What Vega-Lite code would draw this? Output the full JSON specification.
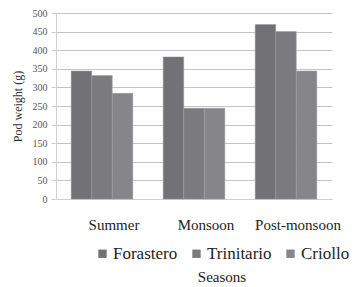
{
  "$schema": "https://vega.github.io/schema/vega-lite/v6.json",
  "width": 276,
  "height": 186,
  "autosize": "none",
  "padding": {"left": 56, "top": 13, "right": 25, "bottom": 88},
  "background": "white",
  "data": {"values": [
    {"season": "Summer", "variety": "Forastero", "weight": 344},
    {"season": "Summer", "variety": "Trinitario", "weight": 332},
    {"season": "Summer", "variety": "Criollo", "weight": 284},
    {"season": "Monsoon", "variety": "Forastero", "weight": 382},
    {"season": "Monsoon", "variety": "Trinitario", "weight": 244},
    {"season": "Monsoon", "variety": "Criollo", "weight": 244},
    {"season": "Post-monsoon", "variety": "Forastero", "weight": 469},
    {"season": "Post-monsoon", "variety": "Trinitario", "weight": 450},
    {"season": "Post-monsoon", "variety": "Criollo", "weight": 344}
  ]},
  "config": {
    "font": "Liberation Serif",
    "view": {"stroke": null}
  },
  "mark": {"type": "bar", "stroke": "#9a9a9e", "strokeWidth": 0.5},
  "encoding": {
    "x": {
      "field": "season", "type": "nominal",
      "sort": ["Summer", "Monsoon", "Post-monsoon"],
      "scale": {"paddingInner": 0.33, "paddingOuter": 0.165},
      "axis": {
        "title": null, "labelAngle": 0, "labelFontSize": 15, "labelColor": "#222",
        "labelFont": "Liberation Serif",
        "labelPadding": 18, "labelOffset": 12, "domainColor": "#d0d0d0", "ticks": false, "grid": false
      }
    },
    "xOffset": {"field": "variety", "type": "nominal", "sort": ["Forastero", "Trinitario", "Criollo"], "scale": {"paddingInner": 0}},
    "y": {
      "field": "weight", "type": "quantitative",
      "scale": {"domain": [0, 500], "nice": false},
      "axis": {
        "title": "Pod weight (g)", "titleFontSize": 12, "titleFontWeight": "normal", "titleColor": "#333",
        "titleFont": "Liberation Serif", "labelFont": "Liberation Serif",
        "titlePadding": 8,
        "values": [0, 50, 100, 150, 200, 250, 300, 350, 400, 450, 500],
        "labelFontSize": 10, "labelColor": "#555", "labelPadding": 4,
        "domain": true, "domainColor": "#d0d0d0", "tickColor": "#d0d0d0", "tickSize": 5,
        "gridColor": "#c4c4c4", "gridWidth": 1
      }
    },
    "color": {
      "field": "variety", "type": "nominal",
      "sort": ["Forastero", "Trinitario", "Criollo"],
      "scale": {"domain": ["Forastero", "Trinitario", "Criollo"], "range": ["#727276", "#7b7b7f", "#86868a"]},
      "legend": {
        "title": "Seasons", "titleOrient": "bottom", "titleAnchor": "middle",
        "titleFont": "Liberation Serif", "labelFont": "Liberation Serif",
        "titleFontSize": 15, "titleFontWeight": "normal", "titleColor": "#222", "titlePadding": 8,
        "orient": "none", "legendX": 38, "legendY": 232, "direction": "horizontal",
        "symbolType": "square", "symbolSize": 70, "symbolStrokeWidth": 0,
        "labelFontSize": 17, "labelColor": "#222", "labelOffset": 2, "columnPadding": 10
      }
    }
  }
}
